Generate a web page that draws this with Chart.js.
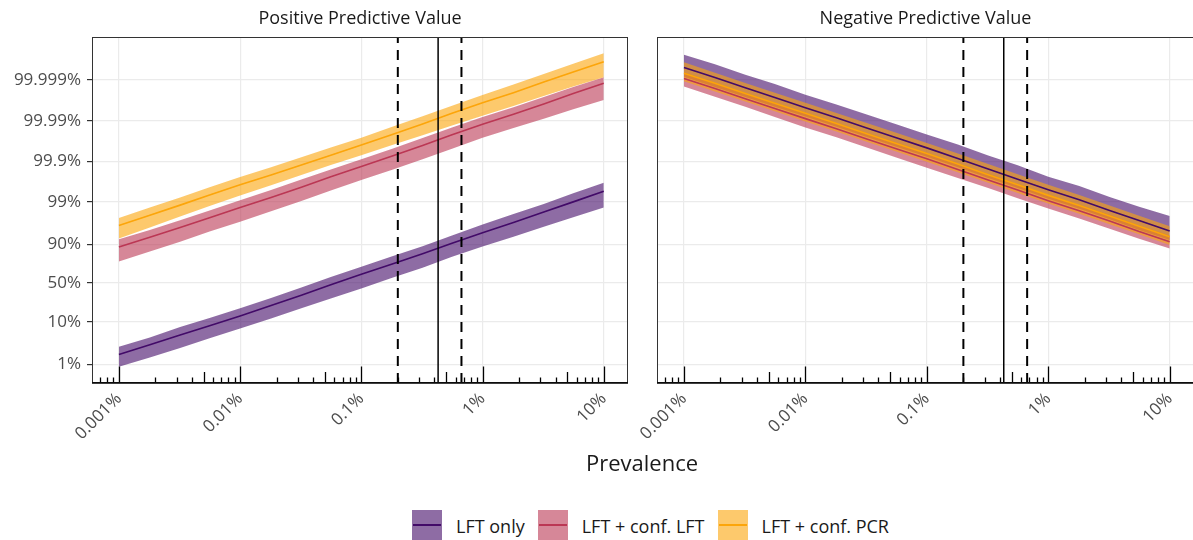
<!DOCTYPE html>
<html>
<head>
<meta charset="utf-8">
<script src="https://cdn.jsdelivr.net/npm/chart.js@4.4.1/dist/chart.umd.min.js"></script>
<style>
  body { margin: 0; background: #fff; font-family: 'Open Sans', sans-serif; }
  #page { position: relative; width: 1193px; height: 540px; overflow: hidden; }
  .panel { position: absolute; top: 0; height: 470px; }
  #xtitle { position: absolute; left: 542px; top: 447px; width: 200px; text-align: center;
            font-size: 22px; line-height: 30px; color: #1a1a1a; }
  #legend { position: absolute; left: 412px; top: 510px; height: 31px; display: flex; align-items: center; }
  .key { position: relative; width: 30px; height: 31px; flex: none; }
  .key i { position: absolute; left: 1px; right: 1px; top: 14px; height: 2px; }
  .lab { font-size: 18px; color: #1a1a1a; margin-left: 14px; margin-right: 13px; white-space: nowrap; }
</style>
</head>
<body>
<div id="page">
  <div class="panel" style="left:0;width:640px"><canvas id="ppv"></canvas></div>
  <div class="panel" style="left:640px;width:560px"><canvas id="npv"></canvas></div>
  <div id="xtitle">Prevalence</div>
  <div id="legend"></div>
</div>
<script>
// Prevalence (%), shared by every series
const prevalence = [0.001, 0.0018, 0.0032, 0.0056, 0.01, 0.018, 0.032, 0.056, 0.1,
                    0.18, 0.32, 0.56, 1, 1.8, 3.2, 5.6, 10];

// Values are log10 odds of the predictive value (logit axis)
// Positive predictive value
const ppvLftMid = [-1.76, -1.52, -1.28, -1.05, -0.81, -0.55, -0.30, -0.04, 0.22, 0.47, 0.72, 0.98, 1.24, 1.49, 1.75, 2.00, 2.26];
const ppvLftHi  = [-1.57, -1.34, -1.08, -0.86, -0.62, -0.37, -0.11, 0.15, 0.40, 0.66, 0.91, 1.17, 1.44, 1.70, 1.95, 2.21, 2.47];
const ppvLftLo  = [-2.06, -1.83, -1.60, -1.36, -1.12, -0.87, -0.62, -0.38, -0.13, 0.13, 0.38, 0.65, 0.90, 1.14, 1.39, 1.62, 1.86];

const ppvConfLftMid = [0.89, 1.13, 1.37, 1.61, 1.86, 2.11, 2.36, 2.62, 2.87, 3.13, 3.39, 3.65, 3.91, 4.16, 4.41, 4.67, 4.92];
const ppvConfLftHi  = [1.08, 1.31, 1.55, 1.79, 2.04, 2.29, 2.55, 2.80, 3.05, 3.31, 3.57, 3.83, 4.09, 4.33, 4.58, 4.83, 5.07];
const ppvConfLftLo  = [0.53, 0.78, 1.02, 1.27, 1.51, 1.77, 2.02, 2.28, 2.54, 2.79, 3.05, 3.31, 3.58, 3.82, 4.05, 4.28, 4.51];

const ppvConfPcrMid = [1.42, 1.67, 1.92, 2.17, 2.42, 2.66, 2.91, 3.15, 3.40, 3.66, 3.92, 4.18, 4.44, 4.69, 4.95, 5.20, 5.45];
const ppvConfPcrHi  = [1.60, 1.86, 2.11, 2.36, 2.61, 2.85, 3.10, 3.34, 3.58, 3.85, 4.11, 4.37, 4.63, 4.89, 5.15, 5.40, 5.66];
const ppvConfPcrLo  = [1.10, 1.37, 1.64, 1.90, 2.16, 2.41, 2.66, 2.91, 3.15, 3.40, 3.64, 3.88, 4.12, 4.36, 4.61, 4.84, 5.07];

// Negative predictive value
const npvLftMid = [5.31, 5.06, 4.81, 4.57, 4.32, 4.07, 3.82, 3.58, 3.33, 3.07, 2.81, 2.56, 2.30, 2.05, 1.79, 1.54, 1.28];
const npvLftHi  = [5.62, 5.39, 5.13, 4.90, 4.64, 4.40, 4.15, 3.91, 3.66, 3.41, 3.14, 2.90, 2.62, 2.39, 2.12, 1.88, 1.65];
const npvLftLo  = [5.08, 4.83, 4.58, 4.34, 4.10, 3.85, 3.60, 3.36, 3.11, 2.85, 2.59, 2.34, 2.08, 1.83, 1.57, 1.31, 1.06];

const npvConfLftMid = [5.04, 4.79, 4.54, 4.30, 4.05, 3.80, 3.55, 3.31, 3.06, 2.80, 2.54, 2.29, 2.03, 1.78, 1.53, 1.27, 1.02];
const npvConfLftHi  = [5.19, 4.94, 4.69, 4.45, 4.20, 3.95, 3.70, 3.46, 3.21, 2.95, 2.69, 2.44, 2.18, 1.93, 1.68, 1.42, 1.17];
const npvConfLftLo  = [4.84, 4.59, 4.34, 4.09, 3.83, 3.59, 3.34, 3.09, 2.84, 2.59, 2.34, 2.09, 1.84, 1.59, 1.34, 1.09, 0.85];

const npvConfPcrMid = [5.17, 4.92, 4.67, 4.43, 4.18, 3.93, 3.68, 3.44, 3.19, 2.93, 2.67, 2.42, 2.16, 1.91, 1.65, 1.40, 1.14];
const npvConfPcrHi  = [5.44, 5.18, 4.93, 4.69, 4.44, 4.19, 3.94, 3.70, 3.45, 3.19, 2.93, 2.68, 2.42, 2.17, 1.91, 1.66, 1.40];
const npvConfPcrLo  = [4.97, 4.72, 4.47, 4.23, 3.98, 3.73, 3.48, 3.24, 2.99, 2.73, 2.47, 2.22, 1.96, 1.71, 1.45, 1.20, 0.94];

// Vertical reference lines (prevalence %)
const rangeLines = [0.2, 0.67];
const centralLine = [0.43];

// Axis ticks
const yTickValues = [1, 10, 50, 90, 99, 99.9, 99.99, 99.999];
const yTickLabels = ['1%', '10%', '50%', '90%', '99%', '99.9%', '99.99%', '99.999%'];
const xTickValues = [0.001, 0.01, 0.1, 1, 10];
const xTickLabels = ['0.001%', '0.01%', '0.1%', '1%', '10%'];

const seriesNames = ['LFT only', 'LFT + conf. LFT', 'LFT + conf. PCR'];
const lineColors = ['#420A68', '#BB3754', '#FCA50A'];
const fillColors = ['rgba(66,10,104,0.6)', 'rgba(187,55,84,0.6)', 'rgba(252,165,10,0.6)'];

const Y_MIN = -2.46, Y_MAX = 6.06;
const X_MIN = Math.pow(10, -3.2), X_MAX = Math.pow(10, 1.2);
const FONT = "'Open Sans', sans-serif";

function pts(ys) {
    return prevalence.map((p, i) => ({ x: p, y: ys[i] }));
}

// log ticks inside the panel + border
const panelPlugin = {
    id: 'panel',
    afterDatasetsDraw(chart) {
        const ctx = chart.ctx, xs = chart.scales.x, a = chart.chartArea;
        ctx.save();
        ctx.strokeStyle = '#000';
        ctx.lineWidth = 1.3;
        for (let d = -4; d <= 1; d++) {
            for (let k = 1; k <= 9; k++) {
                const v = k * Math.pow(10, d);
                if (v < X_MIN || v > X_MAX) continue;
                const px = Math.round(xs.getPixelForValue(v)) + 0.5;
                const len = k === 1 ? 16.5 : (k === 5 ? 11 : 5.5);
                ctx.beginPath();
                ctx.moveTo(px, a.bottom);
                ctx.lineTo(px, a.bottom - len);
                ctx.stroke();
            }
        }
        ctx.restore();
    },
    afterDraw(chart) {
        const ctx = chart.ctx, a = chart.chartArea;
        ctx.save();
        ctx.strokeStyle = '#333';
        ctx.lineWidth = 1;
        ctx.strokeRect(a.left + 0.5, a.top + 0.5, a.right - a.left - 1, a.bottom - a.top - 1);
        ctx.strokeStyle = '#000';
        ctx.lineWidth = 1.6;
        ctx.beginPath();
        ctx.moveTo(a.left, a.bottom);
        ctx.lineTo(a.right, a.bottom);
        ctx.stroke();
        ctx.restore();
    }
};

function buildChart(id, title, series, showY, yWidth, padRight) {
    const datasets = [];
    // ribbons first in drawing order
    series.forEach((s, i) => {
        datasets.push({ data: pts(s.hi), fill: '+1', backgroundColor: fillColors[i],
                        borderWidth: 0, pointRadius: 0, order: 10 - i });
        datasets.push({ data: pts(s.lo), fill: false, borderWidth: 0, pointRadius: 0, order: 10 - i });
    });
    series.forEach((s, i) => {
        datasets.push({ data: pts(s.mid), fill: false, borderColor: lineColors[i],
                        borderWidth: 1.6, pointRadius: 0, order: 6 - i });
    });
    rangeLines.forEach(v => {
        datasets.push({ data: [{ x: v, y: Y_MIN }, { x: v, y: Y_MAX }], borderColor: '#000',
                        borderWidth: 2, borderDash: [10, 7], pointRadius: 0, fill: false, order: 1 });
    });
    centralLine.forEach(v => {
        datasets.push({ data: [{ x: v, y: Y_MIN }, { x: v, y: Y_MAX }], borderColor: '#000',
                        borderWidth: 1.5, pointRadius: 0, fill: false, order: 0 });
    });

    return new Chart(document.getElementById(id), {
        type: 'line',
        data: { datasets: datasets },
        plugins: [panelPlugin],
        options: {
            responsive: true,
            maintainAspectRatio: false,
            animation: false,
            devicePixelRatio: 1,
            layout: { padding: { left: 0, right: padRight, top: 0, bottom: 0 } },
            plugins: {
                legend: { display: false },
                tooltip: { enabled: false },
                title: {
                    display: true, text: title, fullSize: false, color: '#1a1a1a',
                    font: { family: FONT, size: 18, weight: 'normal' },
                    padding: { top: 8, bottom: 7.4 }
                }
            },
            scales: {
                x: {
                    type: 'logarithmic', min: X_MIN, max: X_MAX,
                    afterBuildTicks: sc => { sc.ticks = xTickValues.map(v => ({ value: v })); },
                    afterFit: sc => { sc.height = 87; sc.paddingLeft = 0; sc.paddingRight = 0; },
                    border: { display: false },
                    grid: { color: '#ebebeb', lineWidth: 1.2, drawTicks: false },
                    ticks: {
                        autoSkip: false, minRotation: 45, maxRotation: 45, padding: 6,
                        color: '#4d4d4d', font: { family: FONT, size: 17 },
                        callback: (v, i) => xTickLabels[i]
                    }
                },
                y: {
                    type: 'linear', min: Y_MIN, max: Y_MAX,
                    afterBuildTicks: sc => {
                        sc.ticks = yTickValues.map(p => ({ value: Math.log10(p / (100 - p)) }));
                    },
                    afterFit: sc => { sc.width = yWidth; },
                    border: { display: false },
                    grid: { color: '#ebebeb', lineWidth: 1.2, drawTicks: showY, tickLength: 5, tickColor: '#333' },
                    ticks: {
                        display: showY, padding: 6, color: '#4d4d4d',
                        font: { family: FONT, size: 17 },
                        callback: (v, i) => yTickLabels[i]
                    }
                }
            }
        }
    });
}

function buildLegend() {
    const box = document.getElementById('legend');
    seriesNames.forEach((name, i) => {
        const key = document.createElement('span');
        key.className = 'key';
        key.style.background = fillColors[i];
        const ln = document.createElement('i');
        ln.style.background = lineColors[i];
        key.appendChild(ln);
        const lab = document.createElement('span');
        lab.className = 'lab';
        lab.textContent = name;
        box.appendChild(key);
        box.appendChild(lab);
    });
}

document.addEventListener('DOMContentLoaded', function() {
    buildChart('ppv', 'Positive Predictive Value', [
        { mid: ppvLftMid, hi: ppvLftHi, lo: ppvLftLo },
        { mid: ppvConfLftMid, hi: ppvConfLftHi, lo: ppvConfLftLo },
        { mid: ppvConfPcrMid, hi: ppvConfPcrHi, lo: ppvConfPcrLo }
    ], true, 92, 12);
    // right panel runs past the edge of the picture
    buildChart('npv', 'Negative Predictive Value', [
        { mid: npvLftMid, hi: npvLftHi, lo: npvLftLo },
        { mid: npvConfLftMid, hi: npvConfLftHi, lo: npvConfLftLo },
        { mid: npvConfPcrMid, hi: npvConfPcrHi, lo: npvConfPcrLo }
    ], false, 17, 6);
    buildLegend();
});
</script>
</body>
</html>
